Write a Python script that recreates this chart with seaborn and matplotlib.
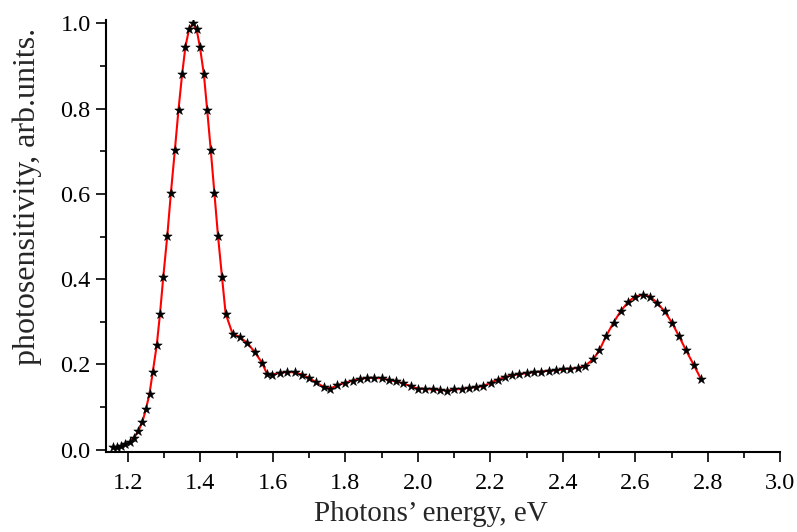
import pandas as pd
import matplotlib.pyplot as plt
import seaborn as sns
import numpy as np

# photon energy (eV) and normalised photosensitivity
energy = [1.160, 1.171, 1.182, 1.193, 1.206, 1.217, 1.229, 1.240, 1.250, 1.260,
          1.269, 1.280, 1.289, 1.298, 1.309, 1.319, 1.330, 1.340, 1.350, 1.359,
          1.369, 1.380, 1.390, 1.399, 1.410, 1.419, 1.429, 1.439, 1.449, 1.460,
          1.470, 1.489, 1.509, 1.530, 1.550, 1.570, 1.584, 1.599, 1.619, 1.639,
          1.660, 1.681, 1.700, 1.719, 1.740, 1.759, 1.778, 1.798, 1.820, 1.840,
          1.860, 1.880, 1.900, 1.920, 1.940, 1.960, 1.980, 2.000, 2.020, 2.041,
          2.061, 2.081, 2.101, 2.121, 2.141, 2.161, 2.181, 2.201, 2.220, 2.240,
          2.260, 2.280, 2.300, 2.320, 2.341, 2.361, 2.381, 2.401, 2.421, 2.441,
          2.461, 2.484, 2.501, 2.520, 2.540, 2.560, 2.580, 2.599, 2.620, 2.640,
          2.660, 2.681, 2.701, 2.720, 2.740, 2.761, 2.781]
sensitivity = [0.005, 0.005, 0.008, 0.012, 0.018, 0.028, 0.043, 0.064, 0.094, 0.131,
               0.182, 0.245, 0.319, 0.405, 0.501, 0.602, 0.703, 0.798, 0.881, 0.945,
               0.986, 1.000, 0.986, 0.945, 0.881, 0.798, 0.703, 0.602, 0.501, 0.405,
               0.319, 0.272, 0.264, 0.250, 0.229, 0.204, 0.178, 0.176, 0.180, 0.182,
               0.181, 0.176, 0.168, 0.158, 0.147, 0.143, 0.151, 0.156, 0.162, 0.166,
               0.168, 0.168, 0.167, 0.163, 0.160, 0.155, 0.149, 0.143, 0.142, 0.141,
               0.140, 0.138, 0.141, 0.142, 0.145, 0.146, 0.149, 0.157, 0.164, 0.170,
               0.174, 0.177, 0.179, 0.181, 0.183, 0.185, 0.186, 0.188, 0.190, 0.191,
               0.196, 0.212, 0.233, 0.267, 0.298, 0.325, 0.346, 0.359, 0.363, 0.359,
               0.345, 0.324, 0.298, 0.267, 0.233, 0.199, 0.166]

df = pd.DataFrame({'energy': energy, 'sens': sensitivity})

sns.set_style("ticks")
plt.rcParams['font.family'] = ['Liberation Serif', 'DejaVu Serif']

f = plt.figure(figsize=(7.97, 5.32), dpi=100)
ax = f.add_axes([0.133, 0.150, 0.846, 0.812])

sns.lineplot(data=df, x='energy', y='sens', color='red', linewidth=1.5, ax=ax, zorder=2)
sns.scatterplot(data=df, x='energy', y='sens', marker='*', color='black', s=50,
                edgecolor='black', linewidth=0.4, ax=ax, zorder=3)

sns.despine(ax=ax)
ax.set_xlim(1.14, 3.0)
ax.set_ylim(-0.0063, 1.0077)
ax.set_xticks(np.arange(1.2, 3.01, 0.2))
ax.set_xticks(np.arange(1.3, 3.0, 0.2), minor=True)
ax.set_yticks(np.arange(0, 1.01, 0.2))
ax.set_yticks(np.arange(0.1, 1.0, 0.2), minor=True)
ax.xaxis.set_major_formatter(plt.FormatStrFormatter('%.1f'))
ax.yaxis.set_major_formatter(plt.FormatStrFormatter('%.1f'))
ax.tick_params(which='major', length=7, width=1.2, labelsize=17.5, color='black', labelcolor='black')
ax.tick_params(axis='x', which='major', pad=8)
ax.tick_params(axis='y', which='major', pad=4)
ax.tick_params(which='minor', length=4, width=1.2, color='black')
for s in ['left', 'bottom']:
    ax.spines[s].set_linewidth(1.5)
    ax.spines[s].set_color('black')

ax.set_xlabel("Photons’ energy, eV", fontsize=21)
ax.set_ylabel("photosensitivity, arb.units.", fontsize=23)
ax.xaxis.set_label_coords(0.482, -0.112)
ax.yaxis.set_label_coords(-0.095, 0.593)

f.savefig('out.png', dpi=100)
plt.close('all')
